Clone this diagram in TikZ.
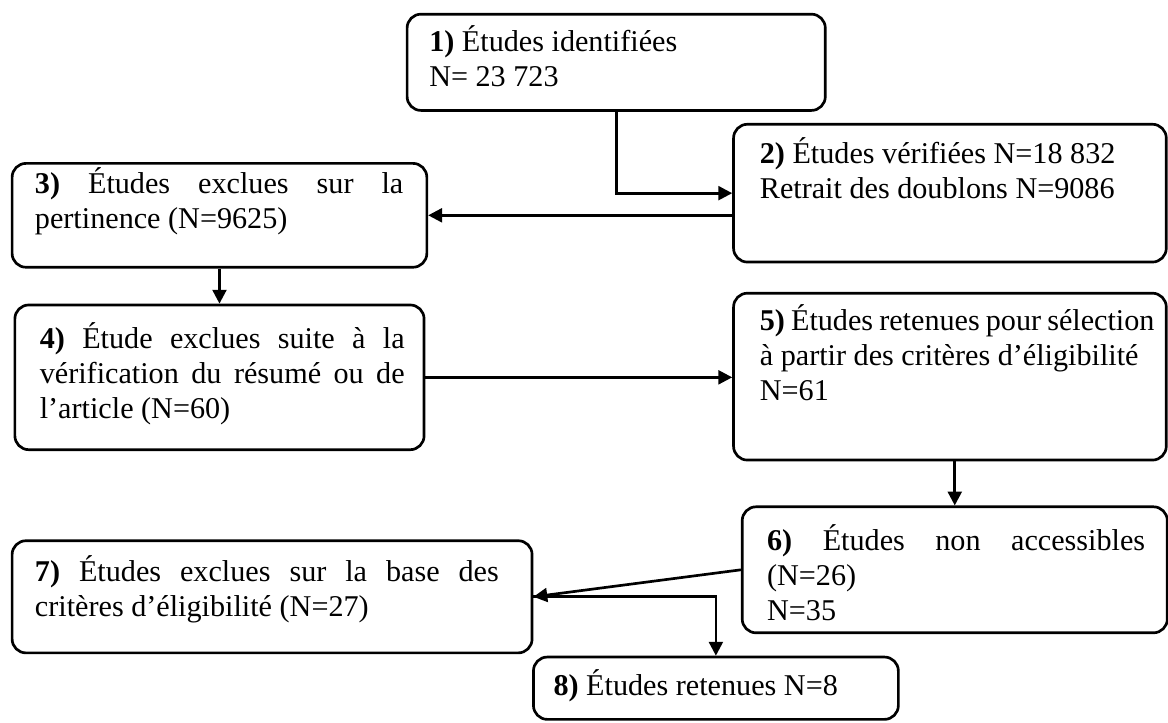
\documentclass[tikz,border=0pt]{standalone}
\usepackage{fontspec}
\setmainfont{Liberation Serif}
\usetikzlibrary{arrows.meta}

\hyphenpenalty=10000
\exhyphenpenalty=10000
\tolerance=10000

\tikzset{
    etape/.style={draw, rectangle, rounded corners=0.2cm, line width=1.1pt},
    texte/.style={anchor=base west, inner sep=0pt, align=justify, font=\fontsize{12.4}{14.4}\selectfont}
}

\begin{document}
\begin{tikzpicture}[line width=1.1pt, >={Triangle[length=0.2cm, width=0.2cm]}]
    \useasboundingbox (0,0) rectangle (16.87,-10.43);

    % les cadres
    \node[etape, minimum width=6.04cm, minimum height=1.39cm] (etape1) at (8.90,-0.90) {};
    \node[etape, minimum width=6.25cm, minimum height=1.99cm] (etape2) at (13.72,-2.79) {};
    \node[etape, minimum width=5.99cm, minimum height=1.50cm] (etape3) at (3.17,-3.11) {};
    \node[etape, minimum width=5.91cm, minimum height=2.09cm] (etape4) at (3.17,-5.45) {};
    \node[etape, minimum width=6.25cm, minimum height=2.41cm] (etape5) at (13.72,-5.44) {};
    \node[etape, minimum width=6.14cm, minimum height=1.82cm] (etape6) at (13.79,-8.23) {};
    \node[etape, minimum width=7.51cm, minimum height=1.62cm] (etape7) at (3.93,-8.62) {};
    \node[etape, minimum width=5.27cm, minimum height=0.90cm] (etape8) at (10.34,-9.94) {};

    % les textes
    \node[texte, text width=5.40cm] (texte1) at (etape1.north west) [xshift=0.32cm, yshift=-0.56cm] {\textbf{1)} Études identifiées\\N=~23~723};
    \node[texte, text width=5.70cm] (texte2) at (etape2.north west) [xshift=0.38cm, yshift=-0.59cm] {\textbf{2)} Études vérifiées N=18~832\\Retrait des doublons N=9086};
    \node[texte, text width=5.32cm] (texte3) at (etape3.north west) [xshift=0.33cm, yshift=-0.46cm] {\textbf{3)} Études exclues sur la pertinence (N=9625)};
    \node[texte, text width=5.27cm] (texte4) at (etape4.north west) [xshift=0.36cm, yshift=-0.65cm] {\textbf{4)} Étude exclues suite à la vérification du résumé ou de l’article (N=60)};
    \node[texte, text width=5.70cm] (texte5) at (etape5.north west) [xshift=0.38cm, yshift=-0.56cm] {\textbf{5)} Études retenues pour sélection à partir des critères d’éligibilité\\N=61};
    \node[texte, text width=5.46cm] (texte6) at (etape6.north west) [xshift=0.36cm, yshift=-0.65cm] {\textbf{6)} Études non accessibles (N=26)\\N=35};
    \node[texte, text width=6.70cm] (texte7) at (etape7.north west) [xshift=0.33cm, yshift=-0.61cm] {\textbf{7)} Études exclues sur la base des critères d’éligibilité (N=27)};
    \node[texte, text width=4.80cm] (texte8) at (etape8.north west) [xshift=0.29cm, yshift=-0.58cm] {\textbf{8)} Études retenues N=8};

    % les fleches
    \draw[->] (etape1.south) |- (etape2.west);
    \draw[->] (etape2.west |- etape3.east) -- (etape3.east);
    \draw[->] (etape3.south) -- (etape4.north);
    \draw[->] (etape4.east) -- (etape4.east -| etape5.west);
    \draw[->] (etape6.north |- etape5.south) -- (etape6.north);
    \draw[->] (etape6.west) -- (etape7.east);
    \draw[->] (etape7.east) -| (etape8.north);
\end{tikzpicture}
\end{document}
